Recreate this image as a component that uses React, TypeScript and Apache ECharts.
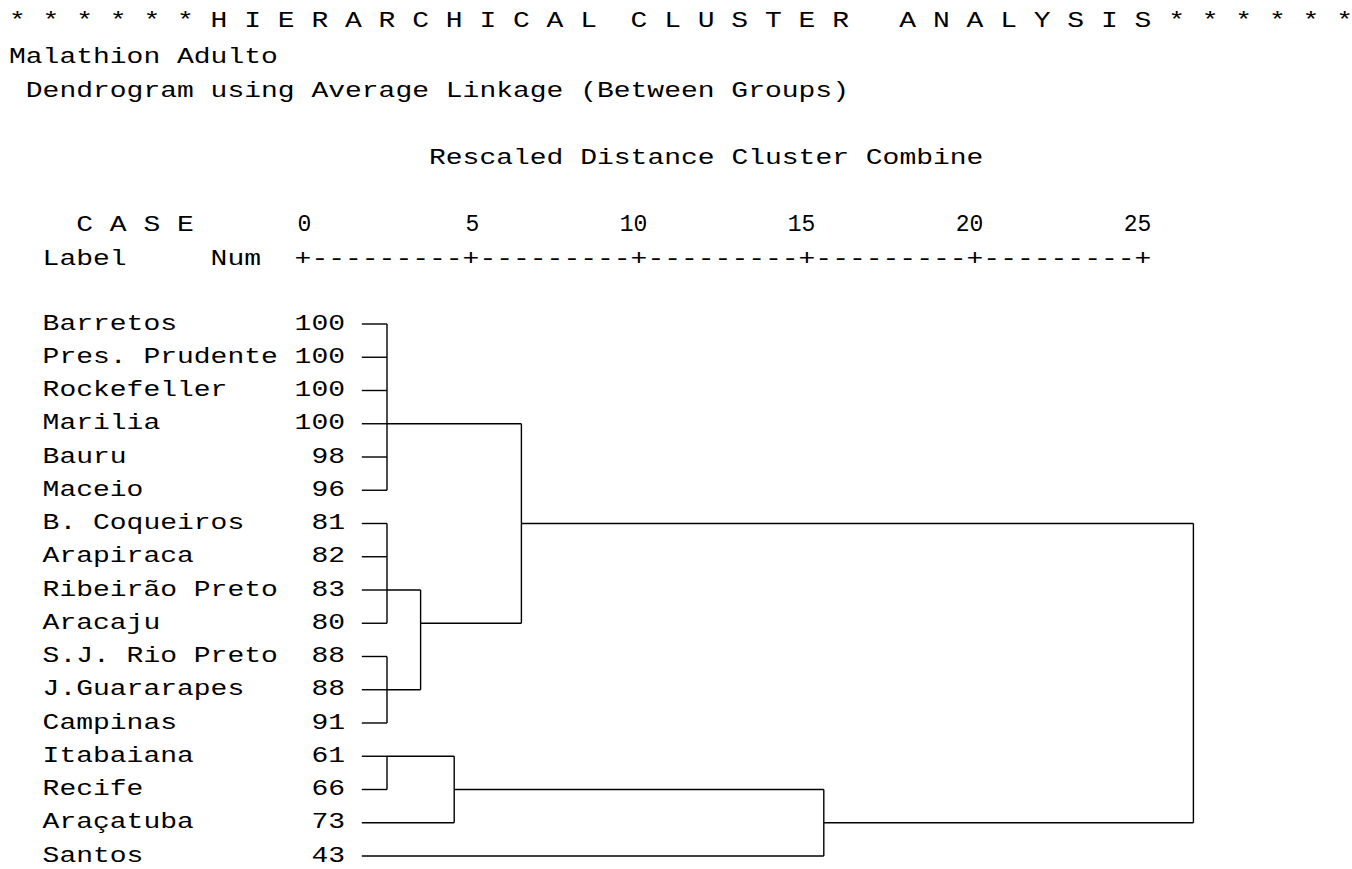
import React, { useEffect, useRef } from "react";
import * as echarts from "echarts";

// ---- data ----
const leafNames = [
  "Barretos", "Pres. Prudente", "Rockefeller", "Marilia", "Bauru", "Maceio",
  "B. Coqueiros", "Arapiraca", "Ribeirão Preto", "Aracaju", "S.J. Rio Preto",
  "J.Guararapes", "Campinas", "Itabaiana", "Recife", "Araçatuba", "Santos",
];
const leafNums = [100, 100, 100, 100, 98, 96, 81, 82, 83, 80, 88, 88, 91, 61, 66, 73, 43];
// stub start of every leaf on the rescaled-distance axis
const leafStart = 1.75;
// merges: node ids 0..16 are leaves, 17.. are merges in this order
const mergeChildren = [
  [0, 1, 2, 3, 4, 5], // 17
  [6, 7, 8, 9],       // 18
  [10, 11, 12],       // 19
  [13, 14],           // 20
  [18, 19],           // 21
  [20, 15],           // 22
  [17, 21],           // 23
  [22, 16],           // 24
  [23, 24],           // 25 root
];
const mergeHeights = [2.5, 2.5, 2.5, 2.5, 3.5, 4.5, 6.5, 15.5, 26.5];
const mergeExitRows = [3, 8, 11, 13, 9, 14, 6, 15, 10];
const tickValues = [0, 5, 10, 15, 20, 25];

const titleText = "* * * * * * H I E R A R C H I C A L  C L U S T E R   A N A L Y S I S * * * * * *";
const subtitle1 = "Malathion Adulto";
const subtitle2 = "Dendrogram using Average Linkage (Between Groups)";
const axisTitle = "Rescaled Distance Cluster Combine";
const caseHeader = "C A S E";
const labelHeader = "Label     Num";
const ruler = "+---------+---------+---------+---------+---------+";

// ---- layout ----
const FONT_FAMILY = '"Liberation Mono", "DejaVu Sans Mono", monospace';
const FS = 22;
const CW = 16.8; // character cell width in the reference
const X0 = 9;
const SX = CW / (FS * 0.6);
const FONT = `${FS}px ${FONT_FAMILY}`;
const N = leafNames.length;

const colX = (c: number) => X0 + c * CW;

function headerText(text: string, col: number, y: number) {
  return {
    type: "text",
    x: colX(col),
    y,
    scaleX: SX,
    silent: true,
    style: {
      text,
      font: FONT,
      fill: "#000",
      textAlign: "left",
      align: "left",
      textVerticalAlign: "middle",
      verticalAlign: "middle",
    },
  };
}

const exitRow = (k: number) => (k < N ? k : mergeExitRows[k - N]);
const nodeHeight = (k: number) => (k < N ? leafStart : mergeHeights[k - N]);

export default function App() {
  const ref = useRef<HTMLDivElement>(null);
  useEffect(() => {
    if (!ref.current) return;
    const chart = echarts.init(ref.current, null, { renderer: "svg" });
    const lineStyle = { stroke: "#000", lineWidth: 1.4 };
    chart.setOption({
      animation: false,
      backgroundColor: "#fff",
      grid: { left: 303, right: 125, top: 324, bottom: 13 },
      xAxis: {
        type: "value",
        position: "top",
        min: 0,
        max: 27.5,
        interval: 5,
        splitLine: { show: false },
        axisLine: { show: false },
        axisTick: { show: false },
        axisLabel: {
          margin: 99.5,
          verticalAlign: "middle",
          formatter: (v: number) => (tickValues.indexOf(v) >= 0 ? `{t|${v}}` : ""),
          rich: {
            t: {
              width: CW,
              align: "right",
              fontFamily: FONT_FAMILY,
              fontSize: 23,
              color: "#000",
            },
          },
        },
      },
      yAxis: {
        type: "value",
        min: 0,
        max: N - 1,
        inverse: true,
        show: false,
      },
      graphic: [
        headerText(titleText, 0, 21),
        headerText(subtitle1, 0, 57),
        headerText(subtitle2, 1, 91),
        headerText(axisTitle, 25, 158),
        headerText(caseHeader, 4, 225),
        headerText(labelHeader, 2, 259),
        headerText(ruler, 17, 259),
      ],
      series: [
        {
          type: "custom",
          name: "labels",
          silent: true,
          data: leafNames.map((_, i) => [0, i]),
          renderItem: (_p: any, api: any) => {
            const i = api.value(1);
            const y = api.coord([0, i])[1];
            return {
              type: "group",
              children: [
                {
                  type: "text",
                  x: colX(2),
                  y,
                  scaleX: SX,
                  style: {
                    text: leafNames[i],
                    font: FONT,
                    fill: "#000",
                    textAlign: "left",
                    align: "left",
                    textVerticalAlign: "middle",
                    verticalAlign: "middle",
                  },
                },
                {
                  type: "text",
                  x: colX(20),
                  y,
                  scaleX: SX,
                  style: {
                    text: String(leafNums[i]),
                    font: FONT,
                    fill: "#000",
                    textAlign: "right",
                    align: "right",
                    textVerticalAlign: "middle",
                    verticalAlign: "middle",
                  },
                },
              ],
            };
          },
        },
        {
          type: "custom",
          name: "dendrogram",
          silent: true,
          clip: false,
          data: mergeHeights.map((h, i) => [h, mergeExitRows[i], i]),
          renderItem: (_p: any, api: any) => {
            const m = api.value(2);
            const h = mergeHeights[m];
            const kids = mergeChildren[m];
            const rows = kids.map(exitRow);
            const a = api.coord([h, Math.min(...rows)]);
            const b = api.coord([h, Math.max(...rows)]);
            const children: any[] = [
              { type: "line", shape: { x1: a[0], y1: a[1], x2: b[0], y2: b[1] }, style: lineStyle },
            ];
            kids.forEach((k) => {
              const r = exitRow(k);
              const s = api.coord([nodeHeight(k), r]);
              const e = api.coord([h, r]);
              children.push({
                type: "line",
                shape: { x1: s[0], y1: s[1], x2: e[0], y2: e[1] },
                style: lineStyle,
              });
            });
            return { type: "group", children };
          },
        },
      ],
    });
    return () => chart.dispose();
  }, []);
  return (
    <div
      ref={ref}
      style={{ position: "absolute", left: 0, top: 0, width: 1352, height: 869, background: "#fff" }}
    />
  );
}
